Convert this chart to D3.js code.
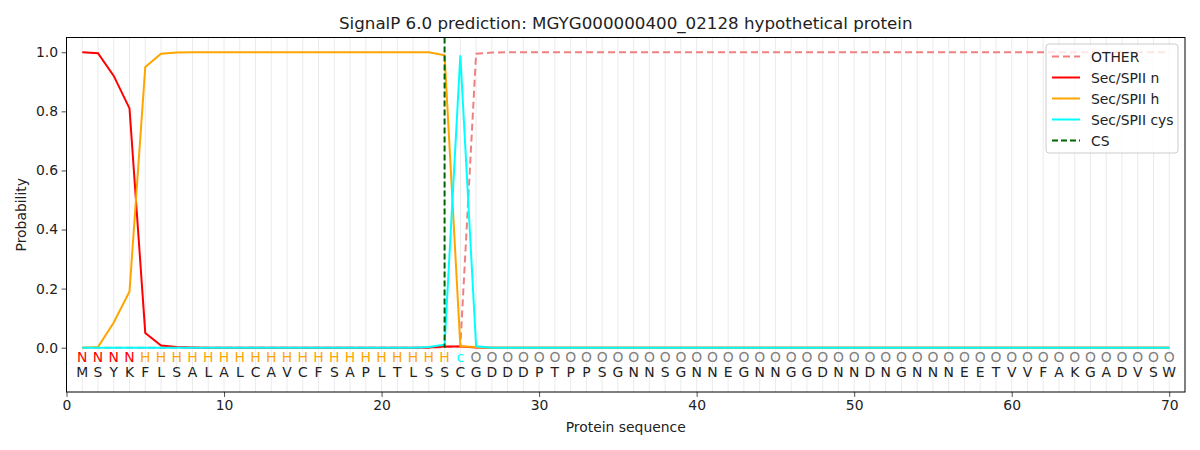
<!DOCTYPE html>
<html>
<head>
<meta charset="utf-8">
<script src="https://cdn.jsdelivr.net/npm/d3@7"></script>
<style>
  html, body { margin: 0; padding: 0; background: #fff; overflow: hidden; }
  svg { display: block; }
  svg text { font-family: "DejaVu Sans", sans-serif; }
</style>
</head>
<body>
<svg id="chart" width="1200" height="450"></svg>
<script>
// Sequence and per-residue labels
const sequence = "MSYKFLSALALCAVCFSAPLTLSSCGDDDPTPPSGNNSGNNEGNNGGDNNDNGNNNEETVVFAKGADVSW".split("");
const labels = ["N","N","N","N","H","H","H","H","H","H","H","H","H","H","H","H","H","H","H","H","H","H","H","H","c",
  "O","O","O","O","O","O","O","O","O","O","O","O","O","O","O","O","O","O","O","O","O","O","O","O","O",
  "O","O","O","O","O","O","O","O","O","O","O","O","O","O","O","O","O","O","O","O"];

// Probabilities per position (1..70), trailing values are zero / one
const otherProb = [0,0,0,0,0,0,0,0,0,0,0,0,0,0,0,0,0,0,0,0,0,0,0,0.002,0.005,0.995,0.999];
const secN = [1.0,0.997,0.92,0.81,0.05,0.007,0.002,0.001,0,0,0,0,0,0,0,0,0,0,0,0,0,0,0.001,0.004,0.004,0.001];
const secH = [0,0.002,0.085,0.19,0.95,0.995,0.999,1,1,1,1,1,1,1,1,1,1,1,1,1,1,1,1,0.99,0.005,0.002];
const secCys = [0,0,0,0,0,0,0,0,0,0,0,0,0,0,0,0,0,0,0,0,0,0,0.002,0.01,0.99,0.005];
const csPos = 24;

const n = sequence.length;
const pad = (arr, fill) => d3.range(n).map(i => i < arr.length ? arr[i] : fill);

const series = [
  { name: "OTHER", values: pad(otherProb, 1), color: "#f08080", dash: "7,4" },
  { name: "Sec/SPII n", values: pad(secN, 0), color: "red", dash: null },
  { name: "Sec/SPII h", values: pad(secH, 0), color: "orange", dash: null },
  { name: "Sec/SPII cys", values: pad(secCys, 0), color: "cyan", dash: null }
];
const labelColor = { N: "red", H: "orange", c: "cyan", O: "gray" };

const margin = { top: 37.5, right: 15, bottom: 58, left: 66.5 };
const width = 1200, height = 450;
const innerWidth = width - margin.left - margin.right;
const innerHeight = height - margin.top - margin.bottom;
const fontSize = 13.9;

const svg = d3.select("#chart");
const inner = svg.append("g").attr("transform", `translate(${margin.left},${margin.top})`);

const xScale = d3.scaleLinear().domain([0, 71]).range([0, innerWidth]);
const yScale = d3.scaleLinear().domain([-0.15, 1.05]).range([innerHeight, 0]);

// light vertical grid at each residue
inner.selectAll("line.grid")
  .data(d3.range(1, n + 1))
  .join("line")
  .attr("class", "grid")
  .attr("x1", d => xScale(d)).attr("x2", d => xScale(d))
  .attr("y1", 0).attr("y2", innerHeight)
  .attr("stroke", "#ebebeb").attr("stroke-width", 1);

// probability lines
const line = d3.line().x((d, i) => xScale(i + 1)).y(d => yScale(d));
series.forEach(s => {
  inner.append("path")
    .datum(s.values)
    .attr("d", line)
    .attr("fill", "none")
    .attr("stroke", s.color)
    .attr("stroke-width", 2)
    .attr("stroke-dasharray", s.dash);
});

// cleavage site
inner.append("line")
  .attr("x1", xScale(csPos)).attr("x2", xScale(csPos))
  .attr("y1", 0).attr("y2", yScale(0))
  .attr("stroke", "darkgreen").attr("stroke-width", 2)
  .attr("stroke-dasharray", "6,3");

// residue letters
inner.selectAll("text.lab")
  .data(labels)
  .join("text")
  .attr("class", "lab")
  .attr("x", (d, i) => xScale(i + 1))
  .attr("y", yScale(-0.05))
  .attr("text-anchor", "middle")
  .attr("font-size", fontSize)
  .attr("fill", d => labelColor[d])
  .text(d => d);

inner.selectAll("text.seq")
  .data(sequence)
  .join("text")
  .attr("class", "seq")
  .attr("x", (d, i) => xScale(i + 1))
  .attr("y", yScale(-0.1))
  .attr("text-anchor", "middle")
  .attr("font-size", fontSize)
  .attr("fill", "#222")
  .text(d => d);

// axes
const bottomAxis = d3.axisBottom(xScale).tickValues(d3.range(0, 71, 10)).tickSizeOuter(0).tickSize(4.9).tickPadding(3.5);
const xAxisG = inner.append("g").attr("transform", `translate(0,${innerHeight})`).call(bottomAxis);
const leftAxis = d3.axisLeft(yScale).tickValues(d3.range(0, 1.01, 0.2)).tickFormat(d3.format(".1f")).tickSizeOuter(0).tickSize(4.9).tickPadding(3.5);
const yAxisG = inner.append("g").call(leftAxis);
[xAxisG, yAxisG].forEach(g => {
  g.selectAll("text").attr("font-size", fontSize).attr("fill", "#222").attr("font-family", "DejaVu Sans");
  g.selectAll(".tick line").attr("stroke", "#222").attr("stroke-width", 0.8);
  g.select(".domain").remove();
});

// frame
inner.append("rect")
  .attr("width", innerWidth).attr("height", innerHeight)
  .attr("fill", "none").attr("stroke", "#000").attr("stroke-width", 1);

// title and axis labels
svg.append("text")
  .text("SignalP 6.0 prediction: MGYG000000400_02128 hypothetical protein")
  .attr("x", margin.left + innerWidth / 2).attr("y", 29)
  .attr("text-anchor", "middle").attr("font-size", 16.7).attr("fill", "#222");

svg.append("text")
  .text("Protein sequence")
  .attr("x", margin.left + innerWidth / 2).attr("y", 432)
  .attr("text-anchor", "middle").attr("font-size", fontSize).attr("fill", "#222");

svg.append("text")
  .text("Probability")
  .attr("transform", `translate(26,${margin.top + innerHeight / 2}) rotate(-90)`)
  .attr("text-anchor", "middle").attr("font-size", fontSize).attr("fill", "#222");

// legend
const legendItems = series.map(s => ({ name: s.name, color: s.color, dash: s.dash }))
  .concat([{ name: "CS", color: "darkgreen", dash: "6,3" }]);
const legend = svg.append("g").attr("transform", "translate(1046,44)");
legend.append("rect")
  .attr("width", 132).attr("height", 109).attr("rx", 3)
  .attr("fill", "white").attr("fill-opacity", 0.8)
  .attr("stroke", "#ccc");
legend.selectAll("g.item")
  .data(legendItems)
  .join("g")
  .attr("class", "item")
  .attr("transform", (d, i) => `translate(0,${12.5 + i * 21})`)
  .each(function(d) {
    const g = d3.select(this);
    g.append("line").attr("x1", 6).attr("x2", 34).attr("y1", 0).attr("y2", 0)
      .attr("stroke", d.color).attr("stroke-width", 2).attr("stroke-dasharray", d.dash);
    g.append("text").attr("x", 45).attr("y", 5).attr("font-size", fontSize).attr("fill", "#222").text(d.name);
  });
</script>
</body>
</html>
